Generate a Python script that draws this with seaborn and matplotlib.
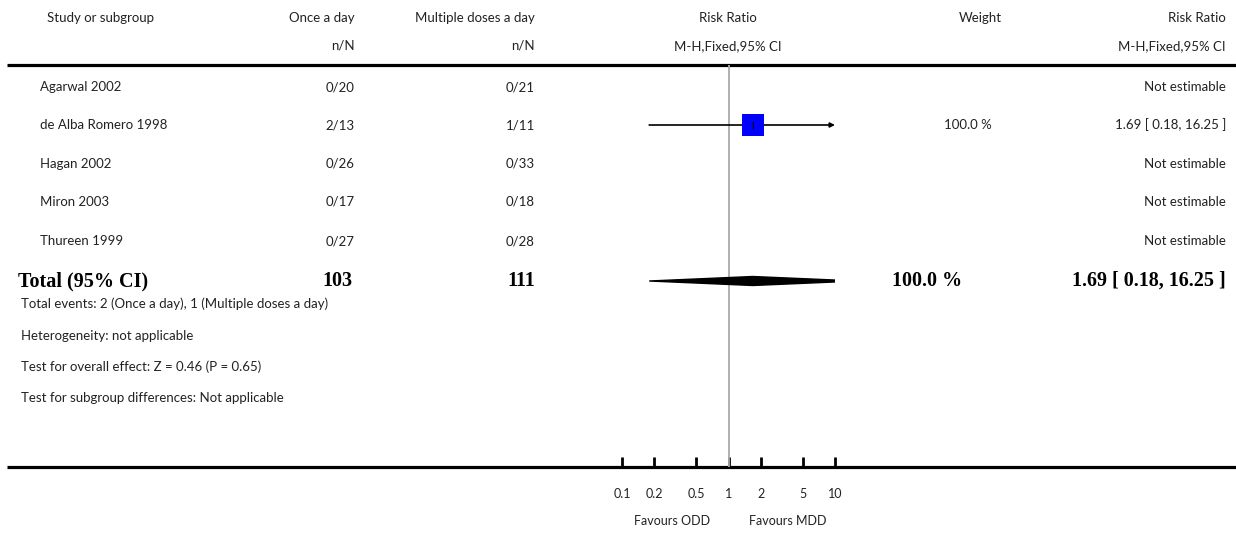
import numpy as np
import pandas as pd
import matplotlib
matplotlib.use("Agg")
import matplotlib.pyplot as plt
import seaborn as sns

sns.set_theme(style="white")
plt.rcParams["font.family"] = ["Lato", "DejaVu Sans"]

# ---- data ----
studies = ["Agarwal 2002", "de Alba Romero 1998", "Hagan 2002", "Miron 2003", "Thureen 1999"]
events_odd = [0, 2, 0, 0, 0]
total_odd = [20, 13, 26, 17, 27]
events_mdd = [0, 1, 0, 0, 0]
total_mdd = [21, 11, 33, 18, 28]
rr = [np.nan, 1.69, np.nan, np.nan, np.nan]
rr_low = [np.nan, 0.18, np.nan, np.nan, np.nan]
rr_high = [np.nan, 16.25, np.nan, np.nan, np.nan]
weight = [np.nan, 100.0, np.nan, np.nan, np.nan]

pooled_rr, pooled_low, pooled_high = 1.69, 0.18, 16.25
pooled_weight = 100.0
n_odd, n_mdd = 103, 111

footer = [
    "Total events: 2 (Once a day), 1 (Multiple doses a day)",
    "Heterogeneity: not applicable",
    "Test for overall effect: Z = 0.46 (P = 0.65)",
    "Test for subgroup differences: Not applicable",
]
axis_ticks = [0.1, 0.2, 0.5, 1, 2, 5, 10]
axis_labels = ["0.1", "0.2", "0.5", "1", "2", "5", "10"]

df = pd.DataFrame({"study": studies, "rr": rr, "low": rr_low, "high": rr_high, "weight": weight})

# ---- layout (pixel units of a 1236 x 533 canvas) ----
W, H = 1236, 533
row_y = [87, 125, 164, 202, 241]
total_y = 281
footer_y = [304, 336, 367, 398]
top_rule, bottom_rule = 65, 467
x_study, x_left = 40, 21
x_odd, x_mdd = 355, 535
x_weight, x_rr = 992, 1226
plot_left, plot_right = 622, 835

TXT = "#222222"
FS = 9.5
BOLD = dict(family=["Liberation Serif", "DejaVu Serif"], fontweight="bold", fontsize=14.5)

fig = plt.figure(figsize=(W / 100, H / 100), dpi=100)
tab = fig.add_axes([0, 0, 1, 1])
tab.set_xlim(0, W)
tab.set_ylim(H, 0)
tab.axis("off")

fp = fig.add_axes([plot_left / W, (H - bottom_rule) / H,
                   (plot_right - plot_left) / W, (bottom_rule - top_rule) / H])
fp.set_xscale("log")
fp.set_xlim(0.1, 10)
fp.set_ylim(bottom_rule, top_rule)
fp.patch.set_alpha(0)
for s in fp.spines.values():
    s.set_visible(False)

# ---- headers ----
tab.text(x_study + 7, 18, "Study or subgroup", ha="left", va="center", fontsize=FS, color=TXT)
tab.text(x_odd, 18, "Once a day", ha="right", va="center", fontsize=FS, color=TXT)
tab.text(x_mdd, 18, "Multiple doses a day", ha="right", va="center", fontsize=FS, color=TXT)
tab.text(728, 18, "Risk Ratio", ha="center", va="center", fontsize=FS, color=TXT)
tab.text(980, 18, "Weight", ha="center", va="center", fontsize=FS, color=TXT)
tab.text(x_rr, 18, "Risk Ratio", ha="right", va="center", fontsize=FS, color=TXT)
tab.text(x_odd, 46, "n/N", ha="right", va="center", fontsize=FS, color=TXT)
tab.text(x_mdd, 46, "n/N", ha="right", va="center", fontsize=FS, color=TXT)
tab.text(728, 46, "M-H,Fixed,95% CI", ha="center", va="center", fontsize=FS, color=TXT)
tab.text(x_rr, 46, "M-H,Fixed,95% CI", ha="right", va="center", fontsize=FS, color=TXT)

tab.plot([7, W], [top_rule, top_rule], color="black", lw=2.3, solid_capstyle="butt")
tab.plot([7, W], [bottom_rule, bottom_rule], color="black", lw=2.3, solid_capstyle="butt")

# ---- study rows ----
for i, y in enumerate(row_y):
    tab.text(x_study, y, studies[i], ha="left", va="center", fontsize=FS, color=TXT)
    tab.text(x_odd, y, f"{events_odd[i]}/{total_odd[i]}", ha="right", va="center", fontsize=FS, color=TXT)
    tab.text(x_mdd, y, f"{events_mdd[i]}/{total_mdd[i]}", ha="right", va="center", fontsize=FS, color=TXT)
    if np.isnan(rr[i]):
        tab.text(x_rr, y, "Not estimable", ha="right", va="center", fontsize=FS, color=TXT)
    else:
        tab.text(x_weight, y, f"{weight[i]:.1f} %", ha="right", va="center", fontsize=FS, color=TXT)
        tab.text(x_rr, y, f"{rr[i]:.2f} [ {rr_low[i]:.2f}, {rr_high[i]:.2f} ]",
                 ha="right", va="center", fontsize=FS, color=TXT)

# line of no effect
fp.axvline(1, color="#aaaaaa", lw=1.3, zorder=1)

# confidence intervals (arrow where the interval runs past the axis)
df["y"] = row_y
est = df.dropna(subset=["rr"])
xmin, xmax = fp.get_xlim()
for _, r in est.iterrows():
    lo, hi = max(r["low"], xmin), min(r["high"], xmax)
    if r["high"] > xmax:
        fp.annotate("", xy=(hi, r["y"]), xytext=(lo, r["y"]),
                    arrowprops=dict(arrowstyle="-|>", color="black", lw=1.2,
                                    mutation_scale=7, shrinkA=0, shrinkB=0), zorder=3)
    else:
        fp.plot([lo, hi], [r["y"], r["y"]], color="black", lw=1.2, zorder=3)

sns.scatterplot(data=est, x="rr", y="y", marker="s", s=250, color="#0000ff",
                edgecolor="none", ax=fp, zorder=4, legend=False)
fp.scatter(est["rr"], est["y"], marker="|", s=30, color="black", linewidths=0.8, zorder=5)

# ---- pooled row ----
tab.text(x_left - 3, total_y, "Total (95% CI)", ha="left", va="center", color="black", **BOLD)
tab.text(x_odd - 3, total_y, f"{n_odd}", ha="right", va="center", color="black", **BOLD)
tab.text(x_mdd, total_y, f"{n_mdd}", ha="right", va="center", color="black", **BOLD)
tab.text(962, total_y, f"{pooled_weight:.1f} %", ha="right", va="center", color="black", **BOLD)
tab.text(x_rr, total_y, f"{pooled_rr:.2f} [ {pooled_low:.2f}, {pooled_high:.2f} ]",
         ha="right", va="center", color="black", **BOLD)

half_h = 4.5
diamond_x = [pooled_low, pooled_rr, pooled_high, pooled_rr]
diamond_y = [total_y, total_y - half_h, total_y, total_y + half_h]
fp.fill(diamond_x, diamond_y, color="black", zorder=4, clip_on=True)

# ---- footer ----
for y, t in zip(footer_y, footer):
    tab.text(x_left, y, t, ha="left", va="center", fontsize=FS, color=TXT)

# ---- axis ----
fp.set_xticks(axis_ticks)
fp.set_xticklabels(axis_labels)
fp.minorticks_off()
fp.set_yticks([])
fp.tick_params(axis="x", which="major", direction="in", length=7, width=2,
               color="black", pad=15, labelsize=FS - 0.5, labelcolor=TXT, bottom=True)
fp.set_xlabel("")
fp.set_ylabel("")

tab.text(672, 521, "Favours ODD", ha="center", va="center", fontsize=FS - 0.5, color=TXT)
tab.text(788, 521, "Favours MDD", ha="center", va="center", fontsize=FS - 0.5, color=TXT)

fig.savefig("out.png", dpi=100, facecolor="white")
